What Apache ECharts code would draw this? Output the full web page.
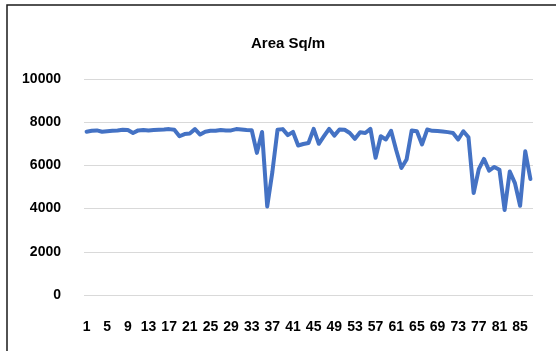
<!DOCTYPE html>
<html>
<head>
<meta charset="utf-8">
<script src="https://cdn.jsdelivr.net/npm/echarts@6/dist/echarts.min.js"></script>
<style>html,body{margin:0;padding:0;background:#fff}#c{width:556px;height:351px}</style>
</head>
<body>
<div id="c"></div>
<script>
var titleText = "Area Sq/m";
var yTicks = [0, 2000, 4000, 6000, 8000, 10000];
var categories = [];
for (var i = 1; i <= 87; i++) categories.push(String(i));
var areaValues = [
  7560, 7600, 7620, 7560, 7580, 7600, 7620, 7650, 7640, 7500,
  7620, 7640, 7620, 7640, 7650, 7660, 7680, 7650, 7350, 7450,
  7480, 7680, 7430, 7560, 7600, 7600, 7640, 7620, 7620, 7680,
  7660, 7640, 7630, 6580, 7550, 4100, 5700, 7650, 7680, 7400,
  7550, 6920, 6990, 7040, 7690, 7000, 7350, 7690, 7380, 7660,
  7650, 7500, 7230, 7530, 7500, 7690, 6350, 7350, 7200, 7600,
  6700, 5880, 6270, 7620, 7580, 6970, 7660, 7600, 7590, 7570,
  7540, 7500, 7200, 7580, 7300, 4720, 5830, 6300, 5760, 5930,
  5800, 3940, 5720, 5180, 4130, 6650, 5370
];

var chart = echarts.init(document.getElementById('c'), null, {renderer: 'canvas'});
chart.setOption({
  animation: false,
  backgroundColor: '#ffffff',
  graphic: [{
    type: 'rect',
    shape: {x: 7, y: 5, width: 700, height: 500},
    style: {fill: 'none', stroke: '#1a1a1a', lineWidth: 1.5},
    silent: true
  }],
  title: {
    text: titleText,
    left: 246,
    top: 31,
    textStyle: {fontFamily: 'Liberation Sans, Arial, sans-serif', fontSize: 15, fontWeight: 'bold', color: '#000'}
  },
  grid: {left: 84, right: 23, top: 79, bottom: 56, containLabel: false},
  xAxis: {
    type: 'category',
    data: categories,
    boundaryGap: true,
    axisLine: {show: false},
    axisTick: {show: false},
    axisLabel: {
      interval: 3,
      margin: 25,
      fontFamily: 'Liberation Sans, Arial, sans-serif',
      fontSize: 14,
      fontWeight: 'bold',
      color: '#000'
    }
  },
  yAxis: {
    type: 'value',
    min: yTicks[0],
    max: yTicks[yTicks.length - 1],
    interval: yTicks[1] - yTicks[0],
    axisLine: {show: false},
    axisTick: {show: false},
    splitLine: {lineStyle: {color: '#d9d9d9', width: 1}},
    axisLabel: {
      margin: 23,
      formatter: function (v) { return String(v); },
      fontFamily: 'Liberation Sans, Arial, sans-serif',
      fontSize: 14,
      fontWeight: 'bold',
      color: '#000'
    }
  },
  series: [{
    type: 'line',
    data: areaValues,
    showSymbol: false,
    symbol: 'none',
    lineStyle: {color: '#4472C4', width: 4, cap: 'round', join: 'round'}
  }]
});
</script>
</body>
</html>
